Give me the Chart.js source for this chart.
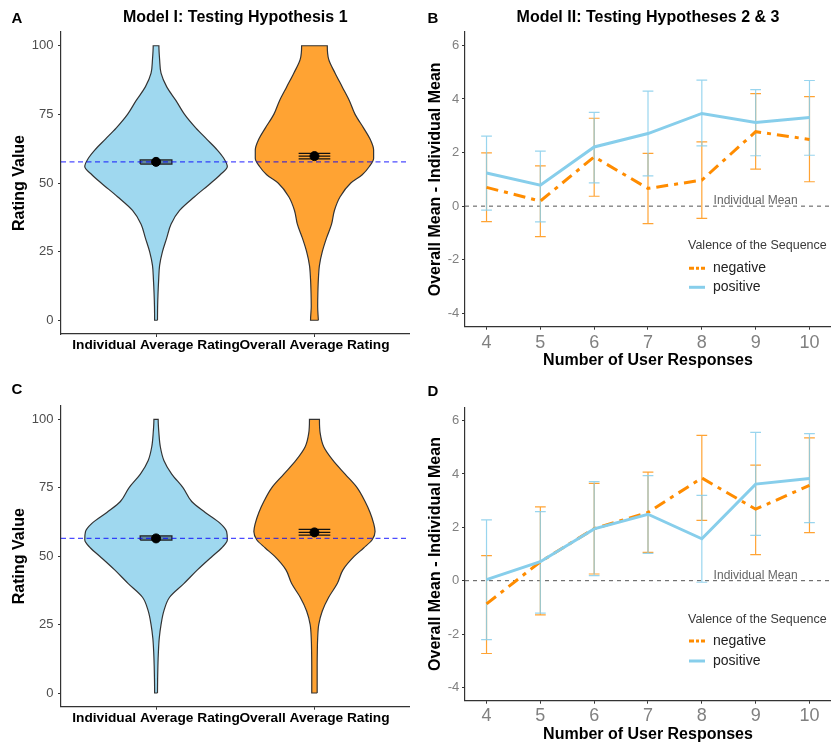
<!DOCTYPE html>
<html><head><meta charset="utf-8">
<script src="https://cdn.jsdelivr.net/npm/chart.js@4.4.1/dist/chart.umd.min.js"></script>
<style>
html,body{margin:0;padding:0;background:#fff}
body{width:831px;height:746px;position:relative;overflow:hidden;font-family:"Liberation Sans",Arial,Helvetica,sans-serif}
canvas{position:absolute;display:block}
.tag{position:absolute;font-weight:bold;font-size:15px;line-height:15px;color:#000;transform:translate(-50%,-50%)}
</style></head><body>
<canvas id="chartA" width="415" height="370" style="left:0;top:0"></canvas>
<canvas id="chartB" width="416" height="370" style="left:415px;top:0"></canvas>
<canvas id="chartC" width="415" height="376" style="left:0;top:370px"></canvas>
<canvas id="chartD" width="416" height="376" style="left:415px;top:370px"></canvas>
<div class="tag" style="left:17px;top:17px">A</div>
<div class="tag" style="left:433px;top:17px">B</div>
<div class="tag" style="left:17px;top:388px">C</div>
<div class="tag" style="left:433px;top:390px">D</div>
<script>
// ---------------- DATA ----------------
const violinCategories = ['Individual Average Rating', 'Overall Average Rating'];
const ratingTicks = [0, 25, 50, 75, 100];
const ratingLevels = [0, 5, 10, 15, 20, 25, 30, 35, 40, 45, 50, 53, 56, 59, 62, 66, 70, 75, 80, 85, 90, 95, 100];
// relative kernel density (widest violin = 1)
const densityA_individual = [0.020,0.022,0.028,0.037,0.050,0.09,0.15,0.21,0.33,0.54,0.77,0.90,1.00,0.95,0.86,0.71,0.56,0.40,0.28,0.15,0.07,0.05,0.04];
const densityA_overall    = [0.055,0.045,0.048,0.055,0.07,0.11,0.17,0.24,0.28,0.36,0.51,0.67,0.77,0.83,0.83,0.78,0.69,0.57,0.49,0.39,0.29,0.20,0.18];
const densityC_individual = [0.020,0.022,0.026,0.033,0.045,0.07,0.11,0.19,0.39,0.58,0.79,0.92,1.00,0.99,0.90,0.69,0.50,0.38,0.22,0.11,0.06,0.04,0.03];
const densityC_overall    = [0.038,0.038,0.038,0.040,0.045,0.06,0.11,0.20,0.32,0.40,0.56,0.69,0.81,0.85,0.83,0.78,0.71,0.60,0.43,0.26,0.13,0.08,0.07];
const meanA = [57.7, 59.8];
const ciLowA = [56.9, 58.8];
const ciHighA = [58.4, 60.8];
const referenceA = 57.7;
const meanC = [56.5, 58.7];
const ciLowC = [55.9, 57.7];
const ciHighC = [57.4, 59.8];
const referenceC = 56.5;

const responseCounts = [4, 5, 6, 7, 8, 9, 10];
const differenceTicks = [-4, -2, 0, 2, 4, 6];
const seriesNames = ['negative', 'positive'];
const B_negative      = [0.70, 0.19, 1.84, 0.66, 0.97, 2.78, 2.49];
const B_negative_low  = [-0.58, -1.14, 0.37, -0.65, -0.46, 1.38, 0.91];
const B_negative_high = [1.99, 1.50, 3.28, 1.97, 2.40, 4.20, 4.09];
const B_positive      = [1.24, 0.78, 2.21, 2.71, 3.46, 3.12, 3.31];
const B_positive_low  = [-0.15, -0.59, 0.87, 1.13, 2.25, 1.88, 1.90];
const B_positive_high = [2.61, 2.05, 3.50, 4.29, 4.70, 4.35, 4.69];
const D_negative      = [-0.87, 0.71, 1.95, 2.56, 3.85, 2.68, 3.57];
const D_negative_low  = [-2.73, -1.28, 0.25, 1.06, 2.26, 0.98, 1.80];
const D_negative_high = [0.94, 2.77, 3.65, 4.07, 5.45, 4.33, 5.35];
const D_positive      = [0.04, 0.71, 1.94, 2.49, 1.57, 3.62, 3.83];
const D_positive_low  = [-2.21, -1.22, 0.19, 1.02, -0.06, 1.70, 2.18];
const D_positive_high = [2.28, 2.59, 3.71, 3.94, 3.20, 5.56, 5.51];
const individualMeanBaseline = 0;

// ---------------- HELPERS ----------------
const FONT = '"Liberation Sans", Arial, Helvetica, sans-serif';
Chart.defaults.font.family = FONT;
Chart.defaults.animation = false;

const VIOLIN_HALF = 0.45, BOX_HALF = 0.1, CAP_HALF = 0.1;
const VX_MIN = 0.4, VX_MAX = 2.6, VY_MIN = -5, VY_MAX = 105;
const LX_MIN = 3.6, LX_MAX = 10.4, LY_MIN = -4.5, LY_MAX = 6.5;

function violinOutline(pos, density) {
  const right = ratingLevels.map((r, i) => ({x: pos + density[i] * VIOLIN_HALF, y: r}));
  const left = ratingLevels.map((r, i) => ({x: pos - density[i] * VIOLIN_HALF, y: r})).reverse();
  return right.concat(left, [right[0]]);
}
function crossbarBox(pos, lo, hi) {
  return [{x: pos - BOX_HALF, y: lo}, {x: pos + BOX_HALF, y: lo}, {x: pos + BOX_HALF, y: hi}, {x: pos - BOX_HALF, y: hi}, {x: pos - BOX_HALF, y: lo}];
}
function crossbarLines(pos, lo, mid, hi) {
  const gap = {x: null, y: null};
  return [{x: pos - BOX_HALF, y: hi}, {x: pos + BOX_HALF, y: hi}, gap,
          {x: pos - BOX_HALF, y: mid}, {x: pos + BOX_HALF, y: mid}, gap,
          {x: pos - BOX_HALF, y: lo}, {x: pos + BOX_HALF, y: lo}];
}
function errorBarPath(xs, lo, hi) {
  const pts = [];
  xs.forEach((x, i) => {
    pts.push({x: x - CAP_HALF, y: hi[i]}, {x: x + CAP_HALF, y: hi[i]}, {x: x, y: hi[i]},
             {x: x, y: lo[i]}, {x: x - CAP_HALF, y: lo[i]}, {x: x + CAP_HALF, y: lo[i]}, {x: null, y: null});
  });
  return pts;
}
const seriesPoints = (xs, ys) => xs.map((x, i) => ({x: x, y: ys[i]}));
const fixTicks = values => scale => { scale.ticks = values.map(v => ({value: v})); };

const textNotes = {
  id: 'textNotes',
  afterDatasetsDraw(chart, args, opts) {
    const notes = (opts && opts.notes) || [];
    const ctx = chart.ctx, xs = chart.scales.x, ys = chart.scales.y;
    notes.forEach(n => {
      ctx.save();
      ctx.font = n.size + 'px ' + FONT;
      ctx.fillStyle = n.color;
      ctx.textAlign = 'center';
      ctx.textBaseline = 'middle';
      ctx.fillText(n.text, xs.getPixelForValue(n.x), ys.getPixelForValue(n.y));
      ctx.restore();
    });
  }
};
const valenceLegend = {
  id: 'valenceLegend',
  afterDatasetsDraw(chart, args, opts) {
    if (!opts || !opts.title) return;
    const ctx = chart.ctx, area = chart.chartArea;
    const x0 = area.left + opts.dx;
    ctx.save();
    ctx.textAlign = 'left';
    ctx.textBaseline = 'middle';
    ctx.font = '12.5px ' + FONT;
    ctx.fillStyle = '#3a3a3a';
    ctx.fillText(opts.title, x0, area.top + opts.titleDy);
    const items = chart.data.datasets.filter(d => d.legendKey);
    items.forEach((d, i) => {
      const y = area.top + opts.itemDy[i];
      ctx.beginPath();
      ctx.setLineDash(d.legendKey.dash);
      ctx.strokeStyle = d.borderColor;
      ctx.lineWidth = d.borderWidth;
      ctx.moveTo(x0 + 1, y);
      ctx.lineTo(x0 + 17, y);
      ctx.stroke();
      ctx.setLineDash([]);
      ctx.font = '14px ' + FONT;
      ctx.fillStyle = '#222';
      ctx.fillText(d.label, x0 + 25, y);
    });
    ctx.restore();
  }
};
Chart.register(textNotes, valenceLegend);

const BLUE = '#87CEEB', ORANGE = '#FF8C00';
const BLUE_FILL = 'rgba(135,206,235,0.8)', ORANGE_FILL = 'rgba(255,140,0,0.8)';

function violinChart(id, o) {
  const datasets = [
    {label: violinCategories[0], data: violinOutline(1, o.dens[0]), fill: 'shape', backgroundColor: BLUE_FILL,
     borderColor: '#333', borderWidth: 1.2, pointRadius: 0, cubicInterpolationMode: 'monotone', order: 5},
    {label: violinCategories[1], data: violinOutline(2, o.dens[1]), fill: 'shape', backgroundColor: ORANGE_FILL,
     borderColor: '#333', borderWidth: 1.2, pointRadius: 0, cubicInterpolationMode: 'monotone', order: 5},
    {label: 'box1', data: crossbarBox(1, o.lo[0], o.hi[0]), fill: 'shape', backgroundColor: 'rgba(45,70,90,0.55)',
     borderColor: '#222', borderWidth: 1.3, pointRadius: 0, tension: 0, order: 4},
    {label: 'box2', data: crossbarLines(2, o.lo[1], o.mean[1], o.hi[1]), fill: false,
     borderColor: '#111', borderWidth: 1.2, pointRadius: 0, tension: 0, order: 4},
    {label: 'reference', data: [{x: VX_MIN, y: o.ref}, {x: VX_MAX, y: o.ref}], fill: false,
     borderColor: 'rgba(0,0,255,0.7)', borderWidth: 1.4, borderDash: [5, 3.5], pointRadius: 0, tension: 0, order: 3},
    {label: 'means', data: [{x: 1, y: o.mean[0]}, {x: 2, y: o.mean[1]}], showLine: false,
     pointRadius: 4.5, pointBackgroundColor: '#000', pointBorderColor: '#000', order: 1}
  ];
  return new Chart(document.getElementById(id), {
    type: 'line',
    data: {datasets: datasets},
    options: {
      indexAxis: 'y',
      responsive: false, animation: false, events: [],
      layout: {padding: {left: 10, top: o.padTop, right: 0, bottom: 0}},
      plugins: {
        legend: {display: false}, tooltip: {enabled: false},
        title: o.title ? {display: true, text: o.title, fullSize: false, color: '#000',
          font: {size: 16, weight: 'bold'}, padding: {top: 7.9, bottom: 4.9}} : {display: false}
      },
      scales: {
        x: {type: 'linear', min: VX_MIN, max: VX_MAX,
          afterBuildTicks: fixTicks([1, 2]),
          afterFit: s => { s.height = o.xH; },
          ticks: {callback: v => violinCategories[Math.round(v) - 1], color: '#000', font: {size: 13.7, weight: 'bold'},
                  padding: o.xPad, maxRotation: 0, minRotation: 0, autoSkip: false},
          grid: {display: true, drawOnChartArea: false, drawTicks: true, tickLength: 3, color: '#333', lineWidth: 1},
          border: {display: true, color: '#333', width: 1.2}
        },
        y: {type: 'linear', min: VY_MIN, max: VY_MAX,
          afterBuildTicks: fixTicks(ratingTicks),
          afterFit: s => { s.width = 51; },
          ticks: {callback: v => String(v), color: '#4d4d4d', font: {size: 13}, padding: 4.5},
          grid: {display: true, drawOnChartArea: false, drawTicks: true, tickLength: 3, color: '#333', lineWidth: 1},
          border: {display: true, color: '#333', width: 1.2},
          title: {display: true, text: 'Rating Value', color: '#000', font: {size: 16, weight: 'bold'}, padding: 0}
        }
      }
    }
  });
}

function lineChart(id, o) {
  const datasets = [
    {label: 'Individual Mean', data: [{x: LX_MIN, y: individualMeanBaseline}, {x: LX_MAX, y: individualMeanBaseline}],
     borderColor: '#555', borderWidth: 1, borderDash: [4, 4], pointRadius: 0, tension: 0, fill: false, order: 6},
    {label: 'neg-err', data: errorBarPath(responseCounts, o.negLo, o.negHi), borderColor: 'rgba(255,140,0,0.8)',
     borderWidth: 1.2, pointRadius: 0, tension: 0, fill: false, order: 5},
    {label: 'pos-err', data: errorBarPath(responseCounts, o.posLo, o.posHi), borderColor: 'rgba(135,206,235,0.85)',
     borderWidth: 1.2, pointRadius: 0, tension: 0, fill: false, order: 4},
    {label: seriesNames[0], data: seriesPoints(responseCounts, o.neg), borderColor: ORANGE, borderWidth: 3,
     borderDash: [12, 6, 4, 6], pointRadius: 0, tension: 0, fill: false, order: 2, legendKey: {dash: [5, 2, 3, 2]}},
    {label: seriesNames[1], data: seriesPoints(responseCounts, o.pos), borderColor: BLUE, borderWidth: 3,
     pointRadius: 0, tension: 0, fill: false, order: 1, legendKey: {dash: []}}
  ];
  return new Chart(document.getElementById(id), {
    type: 'line',
    data: {datasets: datasets},
    options: {
      responsive: false, animation: false, events: [],
      layout: {padding: {left: 11, top: o.padTop, right: 0, bottom: o.padBottom}},
      plugins: {
        legend: {display: false}, tooltip: {enabled: false},
        title: o.title ? {display: true, text: o.title, fullSize: false, color: '#000',
          font: {size: 16, weight: 'bold'}, padding: {top: 7.9, bottom: 4.9}} : {display: false},
        textNotes: {notes: [{text: 'Individual Mean', x: 9, y: 0.2, size: 12, color: '#666'}]},
        valenceLegend: {title: 'Valence of the Sequence', dx: 223, titleDy: o.legTitle, itemDy: o.legItems}
      },
      scales: {
        x: {type: 'linear', min: LX_MIN, max: LX_MAX,
          afterBuildTicks: fixTicks(responseCounts),
          afterFit: s => { s.height = o.xH; },
          ticks: {callback: v => String(v), color: '#808080', font: {size: 18}, padding: o.xPad, maxRotation: 0, autoSkip: false},
          grid: {display: true, drawOnChartArea: false, drawTicks: true, tickLength: 3, color: '#333', lineWidth: 1},
          border: {display: true, color: '#333', width: 1.2},
          title: {display: true, text: 'Number of User Responses', color: '#000', font: {size: 16, weight: 'bold'}, padding: {top: 0, bottom: 0}}
        },
        y: {type: 'linear', min: LY_MIN, max: LY_MAX,
          afterBuildTicks: fixTicks(differenceTicks),
          afterFit: s => { s.width = 39; },
          ticks: {callback: v => String(v), color: '#808080', font: {size: 13}, padding: 2.7},
          grid: {display: true, drawOnChartArea: false, drawTicks: true, tickLength: 3, color: '#333', lineWidth: 1},
          border: {display: true, color: '#333', width: 1.2},
          title: {display: true, text: 'Overall Mean - Individual Mean', color: '#000', font: {size: 16, weight: 'bold'}, padding: 0}
        }
      }
    }
  });
}

violinChart('chartA', {title: 'Model I: Testing Hypothesis 1', padTop: 0, xH: 36, xPad: 0,
  dens: [densityA_individual, densityA_overall], mean: meanA, lo: ciLowA, hi: ciHighA, ref: referenceA});
violinChart('chartC', {title: null, padTop: 35.7, xH: 39.3, xPad: 0.4,
  dens: [densityC_individual, densityC_overall], mean: meanC, lo: ciLowC, hi: ciHighC, ref: referenceC});
lineChart('chartB', {title: 'Model II: Testing Hypotheses 2 & 3', padTop: 0, padBottom: 0, xH: 43.3, xPad: 2.8,
  neg: B_negative, negLo: B_negative_low, negHi: B_negative_high,
  pos: B_positive, posLo: B_positive_low, posHi: B_positive_high,
  legTitle: 213.7, legItems: [236.3, 255.3]});
lineChart('chartD', {title: null, padTop: 37.3, padBottom: 1.4, xH: 43.9, xPad: 1.2,
  neg: D_negative, negLo: D_negative_low, negHi: D_negative_high,
  pos: D_positive, posLo: D_positive_low, posHi: D_positive_high,
  legTitle: 212, legItems: [233.7, 253.7]});
</script>
</body></html>
